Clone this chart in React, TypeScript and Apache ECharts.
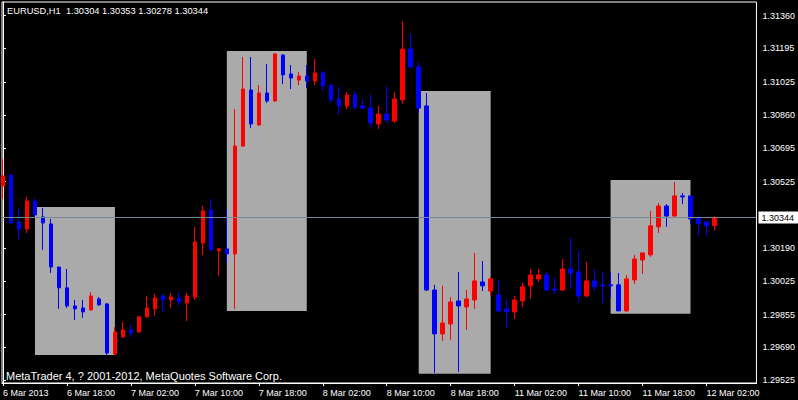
import React, { useEffect, useRef } from "react";
import * as echarts from "echarts";

const symbolName = "EURUSD,H1";
const copyright = "MetaTrader 4, ? 2001-2012, MetaQuotes Software Corp.";

const opens = [
  1.30503, 1.30558, 1.30322, 1.30286, 1.30427, 1.30347, 1.30312, 1.30095, 1.2999, 1.29899,
  1.29889, 1.29879, 1.29934, 1.29909, 1.29657, 1.29743, 1.29778, 1.29768, 1.29844, 1.29884,
  1.29949, 1.29929, 1.29939, 1.29914, 1.29944, 1.30216, 1.30382, 1.30176, 1.30186, 1.30161,
  1.30704, 1.30986, 1.3081, 1.30971, 1.30931, 1.31162, 1.31067, 1.31036, 1.31056, 1.31031,
  1.31072, 1.31011, 1.30941, 1.30906, 1.30961, 1.30906, 1.30895, 1.30815, 1.30865, 1.3083,
  1.30936, 1.31192, 1.31102, 1.30906, 1.29979, 1.29758, 1.29808, 1.29924, 1.29894, 1.29929,
  1.3002, 1.29974, 1.29954, 1.29884, 1.29869, 1.29924, 1.3, 1.30035, 1.30055, 1.29984,
  1.29979, 1.30085, 1.3007, 1.29949, 1.30025, 1.30005, 1.30005, 1.30005, 1.29874, 1.3003,
  1.3013, 1.30156, 1.30297, 1.30402, 1.30352, 1.30453, 1.30453, 1.30342, 1.30322, 1.30304,
];
const closes = [
  1.30553, 1.30317, 1.30286, 1.30427, 1.30357, 1.30317, 1.30095, 1.2999, 1.29899, 1.29884,
  1.29869, 1.29949, 1.29904, 1.29662, 1.29768, 1.29778, 1.29763, 1.29844, 1.29889, 1.29939,
  1.29929, 1.29944, 1.29919, 1.29949, 1.30221, 1.30377, 1.30181, 1.30186, 1.30161, 1.30704,
  1.30991, 1.30815, 1.30971, 1.30931, 1.31167, 1.31062, 1.31046, 1.31056, 1.31031, 1.31072,
  1.31006, 1.30936, 1.30906, 1.30961, 1.309, 1.30895, 1.3082, 1.30865, 1.30835, 1.30941,
  1.31192, 1.31102, 1.30895, 1.29979, 1.29758, 1.29813, 1.29919, 1.29899, 1.29934, 1.30025,
  1.3, 1.30035, 1.29874, 1.29869, 1.29929, 1.29995, 1.30055, 1.30055, 1.29979, 1.29979,
  1.30085, 1.30065, 1.29949, 1.30025, 1.29995, 1.3, 1.3, 1.29874, 1.30035, 1.30135,
  1.30166, 1.30302, 1.30402, 1.30352, 1.30453, 1.30448, 1.30337, 1.30312, 1.30302, 1.30344,
];
const highs = [
  1.30639, 1.30563, 1.30387, 1.30448, 1.30442, 1.30392, 1.30337, 1.30095, 1.30085, 1.29929,
  1.29929, 1.29969, 1.29944, 1.29914, 1.29793, 1.29818, 1.29808, 1.29849, 1.29949, 1.29959,
  1.29959, 1.29964, 1.29969, 1.29964, 1.30297, 1.30402, 1.30437, 1.30191, 1.30382, 1.3089,
  1.31152, 1.31152, 1.31011, 1.31117, 1.31172, 1.31167, 1.31112, 1.31077, 1.31112, 1.31142,
  1.31082, 1.31011, 1.31001, 1.30976, 1.30981, 1.30941, 1.30966, 1.30906, 1.31006, 1.30976,
  1.31333, 1.31268, 1.31127, 1.30971, 1.30005, 1.3, 1.29944, 1.3007, 1.29979, 1.30166,
  1.30125, 1.30045, 1.3003, 1.29934, 1.29949, 1.30015, 1.30085, 1.30085, 1.3007, 1.3004,
  1.30135, 1.30241, 1.30176, 1.3012, 1.30085, 1.30065, 1.3007, 1.30065, 1.30055, 1.30156,
  1.30166, 1.30377, 1.30417, 1.30412, 1.30523, 1.30468, 1.30453, 1.30357, 1.30322, 1.30353,
];
const lows = [
  1.30437, 1.30312, 1.30236, 1.30266, 1.30342, 1.30181, 1.30065, 1.29884, 1.29889, 1.29828,
  1.29839, 1.29874, 1.29899, 1.29652, 1.29652, 1.29738, 1.29743, 1.29763, 1.29839, 1.29849,
  1.29869, 1.29889, 1.29899, 1.29823, 1.29929, 1.30156, 1.30176, 1.3005, 1.3012, 1.29884,
  1.30699, 1.30795, 1.30805, 1.30921, 1.30926, 1.31016, 1.30991, 1.31011, 1.30996, 1.31011,
  1.30981, 1.30921, 1.3086, 1.3089, 1.30885, 1.3089, 1.308, 1.3079, 1.3082, 1.3082,
  1.30916, 1.31097, 1.3087, 1.29974, 1.29562, 1.29723, 1.29728, 1.29567, 1.29778, 1.29884,
  1.29974, 1.29949, 1.29869, 1.29788, 1.29833, 1.29894, 1.29934, 1.3002, 1.29974, 1.29959,
  1.29974, 1.29984, 1.29919, 1.29944, 1.29974, 1.29914, 1.29939, 1.29874, 1.29869, 1.3001,
  1.3006, 1.30146, 1.30266, 1.30297, 1.30347, 1.30412, 1.30312, 1.30251, 1.30251, 1.30278,
];

const xTickBars = [0, 8, 16, 24, 32, 40, 48, 56, 64, 72, 80, 88];
const xTickLabels = [
  "6 Mar 2013", "6 Mar 18:00", "7 Mar 02:00", "7 Mar 10:00", "7 Mar 18:00", "8 Mar 02:00",
  "8 Mar 10:00", "8 Mar 18:00", "11 Mar 02:00", "11 Mar 10:00", "11 Mar 18:00", "12 Mar 02:00",
];
const priceTicks = [
  1.29525, 1.2969, 1.29855, 1.30025, 1.3019, 1.30525, 1.30695, 1.3086, 1.31025, 1.31195, 1.3136,
];
const priceMin = 1.29511;
const priceMax = 1.31429;
const barMin = -0.125;
const barMax = 94.25;
const currentPrice = 1.30344;

const boxStart = [4, 28, 52, 76];
const boxEnd = [14, 38, 61, 86];
const boxHigh = [1.30397, 1.31182, 1.30981, 1.30533];
const boxLow = [1.29652, 1.29874, 1.29557, 1.29859];

const FONT = '"Liberation Sans", Arial, sans-serif';

export default function App() {
  const ref = useRef<HTMLDivElement>(null);
  useEffect(() => {
    if (!ref.current) return;
    const chart = echarts.init(ref.current, null, { renderer: "svg" });
    const last = opens.length - 1;
    const title = `${symbolName}  ${opens[last].toFixed(5)} ${highs[last].toFixed(5)} ${lows[last].toFixed(5)} ${closes[last].toFixed(5)}`;
    const data = opens.map((o, i) => [i, o, closes[i], lows[i], highs[i]]);
    const areas = boxStart.map((s, k) => [
      { coord: [s, boxHigh[k]] },
      { coord: [boxEnd[k], boxLow[k]] },
    ]);
    chart.setOption({
      animation: false,
      backgroundColor: "#000000",
      grid: {
        left: 2,
        top: 2,
        right: 41,
        bottom: 17,
        show: true,
        borderColor: "#ffffff",
        borderWidth: 1,
        backgroundColor: "transparent",
      },
      xAxis: {
        type: "value",
        min: barMin,
        max: barMax,
        axisLine: { show: true, lineStyle: { color: "#ffffff", width: 1 } },
        axisTick: { show: true, length: 3, customValues: xTickBars, lineStyle: { color: "#ffffff" } },
        axisLabel: {
          customValues: xTickBars,
          color: "#ffffff",
          fontFamily: FONT,
          fontSize: 9,
          align: "left",
          margin: 5,
          formatter: (v: number) => {
            const k = xTickBars.indexOf(Math.round(v));
            return k >= 0 ? xTickLabels[k] : "";
          },
        },
        splitLine: { show: false },
      },
      yAxis: {
        type: "value",
        position: "right",
        min: priceMin,
        max: priceMax,
        scale: true,
        axisLine: { show: true, lineStyle: { color: "#ffffff", width: 1 } },
        axisTick: { show: true, length: 3, customValues: priceTicks, lineStyle: { color: "#ffffff" } },
        axisLabel: {
          customValues: priceTicks,
          color: "#ffffff",
          fontFamily: FONT,
          fontSize: 9,
          margin: 6,
          formatter: (v: number) => v.toFixed(5),
        },
        splitLine: { show: false },
      },
      series: [
        {
          type: "candlestick",
          data,
          encode: { x: 0, y: [1, 2, 3, 4] },
          barWidth: 4,
          z: 3,
          itemStyle: {
            color: "#ff0000",
            color0: "#0000ff",
            borderColor: "#ff0000",
            borderColor0: "#0000ff",
            borderWidth: 1,
          },
          markArea: {
            silent: true,
            z: 1,
            itemStyle: { color: "#aaaaaa", opacity: 1 },
            data: areas,
          },
        },
        {
          type: "line",
          name: "bid",
          data: [
            [barMin, currentPrice],
            [barMax, currentPrice],
          ],
          symbol: "none",
          silent: true,
          z: 4,
          lineStyle: { color: "#778899", width: 1, type: "solid" },
          endLabel: {
            show: true,
            distance: 2,
            backgroundColor: "#ffffff",
            color: "#000000",
            fontFamily: FONT,
            fontSize: 9,
            padding: [2, 4, 1, 3],
            formatter: () => currentPrice.toFixed(5),
          },
        },
      ],
      graphic: [
        {
          type: "text",
          x: 7,
          y: 11,
          style: {
            text: title,
            fill: "#ffffff",
            font: `9.3px ${FONT}`,
            textVerticalAlign: "middle",
            verticalAlign: "middle",
          },
        },
        {
          type: "text",
          x: 6,
          y: 375.5,
          style: {
            text: copyright,
            fill: "#ffffff",
            font: `11px ${FONT}`,
            textVerticalAlign: "middle",
            verticalAlign: "middle",
          },
        },
      ],
    });
    return () => chart.dispose();
  }, []);
  return (
    <div
      ref={ref}
      style={{ position: "fixed", left: 0, top: 0, width: 798, height: 400, background: "#000" }}
    />
  );
}
